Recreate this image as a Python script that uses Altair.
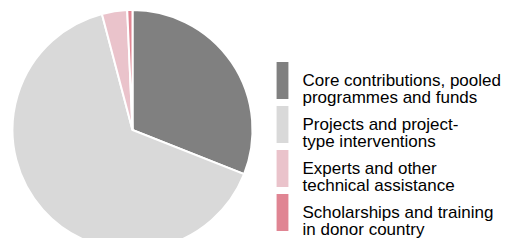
import altair as alt
import pandas as pd

categories = [
    "Core contributions, pooled|programmes and funds",
    "Projects and project-|type interventions",
    "Experts and other|technical assistance",
    "Scholarships and training|in donor country",
]
shares = [31.0, 64.9, 3.4, 0.7]
colors = ["#808080", "#d9d9d9", "#eac3cb", "#e08593"]

df = pd.DataFrame({"category": categories, "share": shares, "order": list(range(len(categories)))})

chart = (
    alt.Chart(df)
    .mark_arc(radius=120, stroke="white", strokeWidth=2)
    .encode(
        theta=alt.Theta("share:Q", stack=True),
        order=alt.Order("order:Q"),
        x=alt.value(124.5),
        y=alt.value(122),
        color=alt.Color(
            "category:N",
            sort=categories,
            scale=alt.Scale(domain=categories, range=colors),
            legend=alt.Legend(
                title=None,
                orient="none",
                legendX=256,
                legendY=54,
                symbolType="M-0.32,-1L0.32,-1L0.32,1L-0.32,1Z",
                symbolSize=1369,
                symbolStrokeWidth=0,
                symbolOpacity=1,
                labelFont="Liberation Sans",
                labelFontSize=17,
                labelColor="#000000",
                labelOffset=1.5,
                labelLimit=300,
                rowPadding=-2,
                labelExpr="split(datum.label, '|')",
            ),
        ),
    )
    .properties(width=495, height=230, padding=0, autosize="none")
    .configure_view(stroke=None)
)

chart.save(
    "out.html",
    embed_options={
        "renderer": "svg",
        "actions": False,
        "patch": [
            {"op": "add", "path": "/legends/0/encode/labels/update/lineHeight", "value": {"value": 17.5}}
        ],
    },
)
